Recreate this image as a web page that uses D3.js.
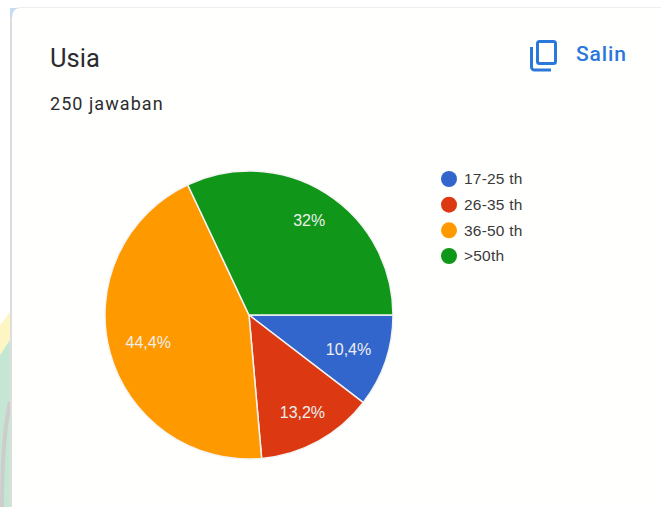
<!DOCTYPE html>
<html><head><meta charset="utf-8">
<script src="https://cdnjs.cloudflare.com/ajax/libs/d3/7.8.5/d3.min.js"></script>
<style>html,body{margin:0;padding:0;background:#fff}svg{display:block}</style>
</head><body>
<svg id="chart" width="661" height="507"></svg>
<script>
const categories = ["17-25 th", "26-35 th", "36-50 th", ">50th"];
const shares = [10.4, 13.2, 44.4, 32];
const shareLabels = ["10,4%", "13,2%", "44,4%", "32%"];
const colours = ["#3366cc", "#dc3912", "#ff9900", "#109618"];

const svg = d3.select("#chart");
const font = "Roboto, Arial, sans-serif";
const chartFont = "'Liberation Sans', Arial, sans-serif";

// Page backdrop with the faint emblem showing down the left margin
svg.append("rect").attr("width", 661).attr("height", 507).attr("fill", "#fff");
svg.append("path").attr("d", "M0 325L10 312V340L0 355Z").attr("fill", "#fdf6c4");
svg.append("path").attr("d", "M0 355L10 340V507H0Z").attr("fill", "#c6e6d4");
svg.append("path").attr("d", "M10 402C5 425 2 460 2 507").attr("fill", "none")
  .attr("stroke", "#cdcdcd").attr("stroke-width", 4);

// Response card
svg.append("rect").attr("x", 11).attr("y", 7.5).attr("width", 680).attr("height", 530)
  .attr("rx", 9).attr("fill", "#fffffd").attr("stroke", "#eeeeee").attr("stroke-width", 1);
svg.append("rect").attr("x", 10).attr("y", 18).attr("width", 2).attr("height", 489).attr("fill", "#dddddd");
svg.append("path").attr("d", "M10 8H19Q12 9 12 18H10Z").attr("fill", "#c9daf4");

svg.append("text").attr("x", 50).attr("y", 67).attr("font-family", font)
  .attr("font-size", 25.5).attr("fill", "#2b2c2f").text("Usia");
svg.append("text").attr("x", 50).attr("y", 110).attr("font-family", font)
  .attr("font-size", 18).attr("letter-spacing", 1.05).attr("fill", "#2b2c2f").text("250 jawaban");

// Copy icon and action
const icon = svg.append("g").attr("fill", "none").attr("stroke", "#2a78dc").attr("stroke-width", 3);
icon.append("rect").attr("x", 537.5).attr("y", 41.5).attr("width", 18).attr("height", 22).attr("rx", 2);
icon.append("path").attr("d", "M531.5 47V67a3 3 0 0 0 3 3H551");
svg.append("text").attr("x", 576).attr("y", 61).attr("font-family", font)
  .attr("font-size", 21).attr("font-weight", 500).attr("letter-spacing", 0.85).attr("fill", "#2a78dc").text("Salin");

// Pie, clockwise from three o'clock
const cx = 249, cy = 315, r = 144;
const angle = d3.scaleLinear().domain([0, 100]).range([Math.PI / 2, Math.PI / 2 + 2 * Math.PI]);
const pie = d3.pie().sort(null).value(d => d).startAngle(angle(0)).endAngle(angle(100));
const arc = d3.arc().innerRadius(0).outerRadius(r);
const arcs = pie(shares);
const plot = svg.append("g").attr("transform", `translate(${cx},${cy})`);
plot.selectAll("path").data(arcs).join("path")
  .attr("d", arc).attr("fill", (d, i) => colours[i]).attr("stroke", "#f4f4f4").attr("stroke-width", 1.5);

// Each label sits at its own fraction of the radius along the slice's mid-angle
const labelReach = [0.73, 0.77, 0.725, 0.78];
plot.selectAll("text").data(arcs).join("text")
  .attr("transform", (d, i) => {
    const a = d3.arc().innerRadius(r * labelReach[i]).outerRadius(r * labelReach[i]);
    return `translate(${a.centroid(d)})`;
  })
  .attr("text-anchor", "middle").attr("dy", "0.36em")
  .attr("font-family", chartFont).attr("font-size", 16).attr("fill", "#eeeeee")
  .text((d, i) => shareLabels[i]);

// Legend
const legendY = d3.scalePoint().domain(categories).range([179, 256]);
const legend = svg.append("g").selectAll("g").data(categories).join("g")
  .attr("transform", d => `translate(0,${legendY(d)})`);
legend.append("circle").attr("cx", 449).attr("r", 8).attr("fill", (d, i) => colours[i]);
legend.append("text").attr("x", 464).attr("dy", "0.34em")
  .attr("font-family", chartFont).attr("font-size", 15.5).attr("letter-spacing", 0.2).attr("fill", "#3a3a3a").text(d => d);
</script>
</body></html>
